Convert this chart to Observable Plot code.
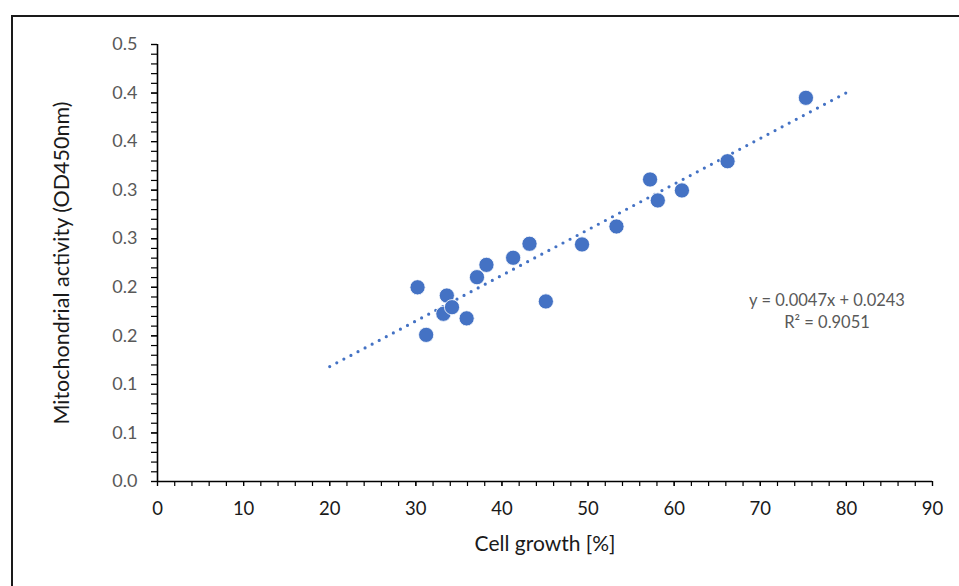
<!DOCTYPE html>
<html>
<head>
<meta charset="utf-8">
<script src="https://cdn.jsdelivr.net/npm/d3@7"></script>
<script src="https://cdn.jsdelivr.net/npm/@observablehq/plot@0.6"></script>
<style>
  html, body { margin: 0; padding: 0; background: #fff; overflow: hidden; width: 959px; height: 586px; }
  #frame { position: absolute; left: 11px; top: 15px; width: 1000px; height: 1000px; border: 2px solid #1a1a1a; box-sizing: border-box; pointer-events: none; }
  #chart { position: absolute; left: 0; top: 0; }
</style>
</head>
<body>
<div id="chart"></div>
<div id="frame"></div>
<script>
// Data
const cellGrowth = [30.2, 31.2, 33.6, 33.2, 34.2, 35.9, 37.1, 38.2, 41.3, 43.2, 45.1, 49.3, 53.3, 57.2, 58.1, 60.9, 66.2, 75.3];
const mitoActivity = [0.200, 0.151, 0.1915, 0.1727, 0.1795, 0.168, 0.2104, 0.2231, 0.2304, 0.2448, 0.1854, 0.2441, 0.2626, 0.3110, 0.2894, 0.2997, 0.3298, 0.3951];

// Trendline endpoints (y = 0.0047x + 0.0243)
const trendX = [20, 80];
const trendY = [0.1183, 0.4003];
const equationText = "y = 0.0047x + 0.0243";
const r2Text = "R² = 0.9051";

// Axis ticks
const xTicks = [0, 10, 20, 30, 40, 50, 60, 70, 80, 90];
const xMinorTicks = d3.range(0, 91, 2);
const yTicks = [0, 0.05, 0.1, 0.15, 0.2, 0.25, 0.3, 0.35, 0.4, 0.45];
const yTickLabels = ["0.0", "0.1", "0.1", "0.2", "0.2", "0.3", "0.3", "0.4", "0.4", "0.5"];
const yMinorTicks = d3.range(0, 46).map(i => i / 100);

const xLabel = "Cell growth [%]";
const yLabel = "Mitochondrial activity (OD450nm)";

const points = cellGrowth.map((x, i) => ({x, y: mitoActivity[i]}));
const trend = trendX.map((x, i) => ({x, y: trendY[i]}));

const blue = "#4472C4";

const chart = Plot.plot({
  width: 959,
  height: 586,
  marginLeft: 157,
  marginRight: 27,
  marginTop: 44,
  marginBottom: 105,
  style: {fontFamily: "Lato, 'Open Sans', sans-serif", fontSize: "16px", background: "transparent"},
  x: {domain: [0, 90]},
  y: {domain: [0, 0.45]},
  marks: [
    Plot.axisY({ticks: yMinorTicks, tickSize: 6, tickFormat: () => "", stroke: "#000", strokeWidth: 1.2, label: null}),
    Plot.axisY({ticks: yTicks, tickSize: 6, tickPadding: 14, tickFormat: (d, i) => yTickLabels[i], stroke: "#000", strokeWidth: 1.2, fill: "#595959", fontSize: 18, label: null}),
    Plot.axisX({ticks: xMinorTicks, tickSize: 5, tickFormat: () => "", stroke: "#000", strokeWidth: 1.2, label: null}),
    Plot.axisX({ticks: xTicks, tickSize: 5, tickPadding: 15, tickFormat: d => String(d), stroke: "#000", strokeWidth: 1.2, fill: "#1a1a1a", fontSize: 18.5, label: null}),
    Plot.ruleY([0], {stroke: "#000", strokeWidth: 1.6}),
    Plot.ruleX([0], {stroke: "#000", strokeWidth: 1.6}),
    Plot.line(trend, {x: "x", y: "y", stroke: blue, strokeWidth: 3.2, strokeDasharray: "0 8", strokeLinecap: "round"}),
    Plot.dot(points, {x: "x", y: "y", r: 7.6, fill: blue, stroke: "#fff", strokeWidth: 0.8}),
    Plot.text([equationText + "\n" + r2Text], {x: 77.75, y: 0.177, fill: "#595959", fontSize: 16.5, lineHeight: 1.35, textAnchor: "middle"}),
    Plot.text([xLabel], {frameAnchor: "bottom", dy: 69, fill: "#1a1a1a", fontSize: 21, textAnchor: "middle"}),
    Plot.text([yLabel], {frameAnchor: "left", dx: -95, rotate: -90, fill: "#1a1a1a", fontSize: 21.5, textAnchor: "middle"})
  ]
});
document.getElementById("chart").appendChild(chart);
</script>
</body>
</html>
